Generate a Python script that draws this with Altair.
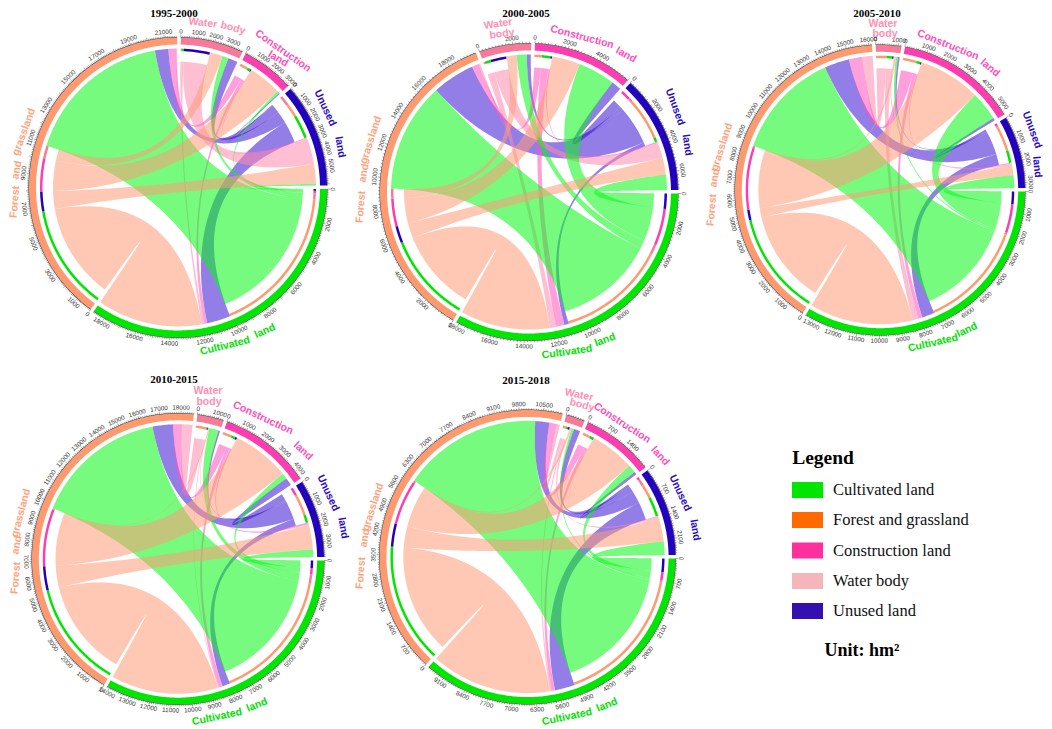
import math
import altair as alt
import pandas as pd

alt.data_transformers.disable_max_rows()

# sector order clockwise from 3 o'clock: Cultivated, Forest, Water, Construction, Unused
SECTORS = ["Cultivated land", "Forest and grassland", "Water body", "Construction land", "Unused land"]
BAND = ["#00E600", "#FF9A70", "#F87A9A", "#FF3CB0", "#2200C0"]
RIBBON = ["#05F815", "#FF9B76", "#FF8AAD", "#FF52BF", "#3A12D1"]
WORD_COLORS = ["#00E000", "#FFA37E", "#FF8FB3", "#FF4FB8", "#2A0CC0"]

# flow tables: row = from, column = to, hm2 (order as SECTORS)
flows_1995 = [[0, 9500, 400, 150, 120],
              [6700, 0, 800, 2100, 1250],
              [150, 60, 0, 20, 1650],
              [200, 500, 20, 0, 60],
              [1500, 850, 600, 60, 0]]
flows_2000 = [[0, 7100, 650, 2400, 1000],
              [5800, 0, 650, 1800, 1100],
              [400, 100, 0, 30, 1000],
              [550, 450, 30, 0, 100],
              [280, 2750, 250, 640, 0]]
flows_2005 = [[0, 5200, 100, 1400, 620],
              [5000, 0, 100, 3000, 500],
              [280, 500, 0, 10, 60],
              [200, 650, 10, 0, 50],
              [600, 1200, 80, 130, 0]]
flows_2010 = [[0, 6800, 470, 300, 400],
              [5500, 0, 60, 2950, 1250],
              [50, 540, 0, 10, 40],
              [200, 450, 10, 0, 100],
              [400, 1050, 80, 400, 0]]
flows_2015 = [[0, 4340, 70, 250, 430],
              [3760, 0, 60, 1390, 730],
              [50, 100, 0, 5, 60],
              [110, 230, 5, 0, 15],
              [620, 440, 200, 90, 0]]

# labelled ticks per sector
ticks_1995 = [list(range(0, 18001, 2000)), [0] + list(range(1000, 21001, 2000)),
              [0, 1000, 2000, 3000], [0, 1000, 2000, 3000], [0, 1000, 2000, 3000, 4000, 5000]]
ticks_2000 = [list(range(0, 18001, 2000)), list(range(0, 18001, 2000)),
              [0, 2000], [0, 2000, 4000], [0, 2000, 4000, 6000]]
ticks_2005 = [list(range(0, 13001, 1000)), list(range(0, 16001, 1000)),
              [0, 1000], list(range(0, 5001, 1000)), [0, 1000, 2000, 3000]]
ticks_2010 = [list(range(0, 14001, 1000)), list(range(0, 18001, 1000)),
              [0, 1000], list(range(0, 4001, 1000)), [0, 1000, 2000, 3000]]
ticks_2015 = [list(range(0, 9101, 700)), list(range(0, 10501, 700)),
              [0], [0, 700, 1400], [0, 700, 1400, 2100]]

TITLES = ["1995-2000", "2000-2005", "2005-2010", "2010-2015", "2015-2018"]
FLOWS = [flows_1995, flows_2000, flows_2005, flows_2010, flows_2015]
TICKS = [ticks_1995, ticks_2000, ticks_2005, ticks_2010, ticks_2015]
TICK_STEP = [100, 200, 100, 100, 70]

# layout (picture pixels): centre x, centre y, radius x, radius y, title x, title y
FRAMES = [(178, 187.5, 149, 150, 174, 13.5),
          (529, 192, 149, 148.5, 526, 13.5),
          (880, 190, 145, 145, 877, 13.5),
          (178, 559, 146, 145.5, 174, 380),
          (527.5, 557, 148, 147, 526, 381)]

# outer sector names set along the rim: word, x, y, rotation, sector
WORDS = [
    ("Water", 203, 23, 7, 2), ("body", 233, 28, 15, 2),
    ("Construction", 283, 51, 35, 3), ("land", 278, 59, 30, 3),
    ("Unused", 325, 108, 65, 4), ("land", 340, 147, 80, 4),
    ("Forest", 15, 202, -85, 1), ("and", 17, 170, -80, 1), ("grassland", 24, 132, -70, 1),
    ("Cultivated", 225, 346, -14, 0), ("land", 265, 331, -24, 0),

    ("Water", 498, 24, -8, 2), ("body", 502, 34, -8, 2),
    ("Construction", 582, 37, 15, 3), ("land", 626, 55, 28, 3),
    ("Unused", 675, 107, 70, 4), ("land", 687, 145, 82, 4),
    ("Forest", 361, 207, -85, 1), ("and", 364, 173, -80, 1), ("grassland", 371, 140, -72, 1),
    ("Cultivated", 567, 352, -8, 0), ("land", 605, 340, -20, 0),

    ("Water", 883, 23.5, 0, 2), ("body", 885, 34, 0, 2),
    ("Construction", 948, 45, 22, 3), ("land", 990, 68, 40, 3),
    ("Unused", 1032, 130, 70, 4), ("land", 1037, 167, 85, 4),
    ("Forest", 712, 210, -85, 1), ("and", 715, 178, -80, 1), ("grassland", 722, 147, -72, 1),
    ("Cultivated", 933, 343, -13, 0), ("land", 967, 330, -25, 0),

    ("Water", 208, 391, 0, 2), ("body", 209, 402, 0, 2),
    ("Construction", 263, 418, 25, 3), ("land", 303, 451, 42, 3),
    ("Unused", 328, 493, 65, 4), ("land", 343, 528, 80, 4),
    ("Forest", 16, 578, -85, 1), ("and", 17, 545, -80, 1), ("grassland", 21, 513, -75, 1),
    ("Cultivated", 217, 717, -12, 0), ("land", 257, 705, -22, 0),

    ("Water", 579, 395, 12, 2), ("body", 582, 405, 15, 2),
    ("Construction", 622, 423, 33, 3), ("land", 660, 456, 48, 3),
    ("Unused", 680, 493, 65, 4), ("land", 695, 530, 80, 4),
    ("Forest", 361, 573, -85, 1), ("and", 365, 538, -80, 1), ("grassland", 373, 507, -72, 1),
    ("Cultivated", 567, 717, -12, 0), ("land", 607, 705, -22, 0),
]

LEGEND_NAMES = ["Cultivated land", "Forest and grassland", "Construction land", "Water body", "Unused land"]
LEGEND_COLORS = ["#00E600", "#FF6A00", "#FF2F9E", "#F4B6BA", "#3410B0"]

GAP = 1.4
START = 0.6
R_BAND_OUT, R_BAND_IN = 149.0, 142.0
R_THIN_OUT, R_THIN_IN = 138.0, 135.5
R_IN, R_OUT = 138.0, 125.0
ALPHA = 0.55


def pt(frame, r, a):
    cx, cy, rx, ry = frame[:4]
    t = math.radians(a)
    return [cx + rx * r / 149.0 * math.cos(t), cy + ry * r / 149.0 * math.sin(t)]


def arc(frame, r, a0, a1):
    n = max(2, int(abs(a1 - a0) / 0.7) + 2)
    return [pt(frame, r, a0 + (a1 - a0) * i / (n - 1)) for i in range(n)]


def curve(frame, p0, p2):
    c = frame[:2]
    out = []
    for i in range(1, 40):
        t = i / 40
        out.append([(1 - t) ** 2 * p0[0] + 2 * t * (1 - t) * c[0] + t * t * p2[0],
                    (1 - t) ** 2 * p0[1] + 2 * t * (1 - t) * c[1] + t * t * p2[1]])
    return out


def feature(ring, color, opacity=1.0):
    ring = ring + [ring[0]]
    return {"type": "Feature",
            "geometry": {"type": "Polygon", "coordinates": [ring]},
            "properties": {"c": color, "o": opacity}}


def band(frame, r0, r1, a0, a1, color, opacity=1.0):
    return feature(arc(frame, r1, a0, a1) + arc(frame, r0, a1, a0), color, opacity)


shapes_bottom, ribbons, rules, tick_text = [], {}, [], []
for p, M in enumerate(FLOWS):
    frame = FRAMES[p]
    out_tot = [sum(M[i]) for i in range(5)]
    in_tot = [sum(M[j][i] for j in range(5)) for i in range(5)]
    totals = [out_tot[i] + in_tot[i] for i in range(5)]
    per_deg = (360 - 5 * GAP) / sum(totals)
    starts, a = [], START
    for i in range(5):
        starts.append(a)
        a += totals[i] * per_deg + GAP
    out_end = {}
    in_end = {}
    for i in range(5):
        shapes_bottom.append(band(frame, R_BAND_IN, R_BAND_OUT, starts[i],
                                  starts[i] + totals[i] * per_deg, BAND[i]))
        shapes_bottom.append(band(frame, R_BAND_OUT, R_BAND_OUT + 0.5, starts[i],
                                  starts[i] + totals[i] * per_deg, "#222222"))
        # ends of flows run backwards round the circle from this sector
        pos = starts[i]
        for k in range(1, 5):
            j = (i - k) % 5
            w = M[i][j] * per_deg
            out_end[(i, j)] = (pos, pos + w)
            pos += w
        for k in range(1, 5):
            j = (i - k) % 5
            w = M[j][i] * per_deg
            in_end[(j, i)] = (pos, pos + w)
            pos += w
        for k in range(1, 5):
            j = (i - k) % 5
            s0, s1 = out_end[(i, j)]
            shapes_bottom.append(band(frame, R_THIN_IN, R_THIN_OUT, s0, s1, BAND[j]))
        # ruler
        step = TICK_STEP[p]
        major = 10 * step
        v = 0
        while v <= totals[i]:
            ang = starts[i] + v * per_deg
            length = 2.6 if v % major == 0 else 1.5
            p0, p1 = pt(frame, R_BAND_OUT + 0.3, ang), pt(frame, R_BAND_OUT + 0.3 + length, ang)
            rules.append({"x": p0[0], "y": p0[1], "x2": p1[0], "y2": p1[1]})
            v += step
        for v in TICKS[p][i]:
            ang = starts[i] + v * per_deg
            q = pt(frame, R_BAND_OUT + 6.0, ang)
            rot = (ang + 90) % 360 if ang > 180 else (ang - 90) % 360
            tick_text.append({"x": q[0], "y": q[1], "t": str(v), "r": rot})
    for i in range(5):
        for j in range(5):
            if i == j or M[i][j] <= 0:
                continue
            a0, a1 = out_end[(i, j)]
            b0, b1 = in_end[(i, j)]
            ring = (arc(frame, R_OUT, a0, a1)
                    + curve(frame, pt(frame, R_OUT, a1), pt(frame, R_IN, b0))
                    + arc(frame, R_IN, b0, b1)
                    + curve(frame, pt(frame, R_IN, b1), pt(frame, R_OUT, a0)))
            ribbons.setdefault(i, []).append(feature(ring, RIBBON[i], ALPHA))

features = list(shapes_bottom)
for i in [4, 2, 3, 0, 1]:
    features += ribbons.get(i, [])

SX = alt.Scale(domain=[8, 1044], nice=False, zero=False)
SY = alt.Scale(domain=[729, 8], nice=False, zero=False)
X = alt.X("x:Q", scale=SX, axis=None)
Y = alt.Y("y:Q", scale=SY, axis=None)

shapes = (alt.Chart(alt.Data(values=features))
          .mark_geoshape(strokeWidth=0)
          .encode(color=alt.Color("properties.c:N", scale=None),
                  opacity=alt.Opacity("properties.o:Q", scale=None))
          .project(type="identity", scale=1, translate=[-8, -8], reflectY=False))

ruler = (alt.Chart(pd.DataFrame(rules)).mark_rule(color="#222222", strokeWidth=0.4)
         .encode(x=X, y=Y, x2="x2:Q", y2="y2:Q"))

tick_labels = (alt.Chart(pd.DataFrame(tick_text))
               .mark_text(font="Liberation Sans", fontSize=6.3, color="#333333", align="center", baseline="middle")
               .encode(x=X, y=Y, text="t:N", angle=alt.Angle("r:Q", scale=None)))

word_df = pd.DataFrame([{"x": x, "y": y, "t": w, "r": r % 360, "c": WORD_COLORS[s]} for w, x, y, r, s in WORDS])
words = (alt.Chart(word_df)
         .mark_text(font="Liberation Sans", fontSize=10.5, fontWeight="bold", align="center", baseline="middle")
         .encode(x=X, y=Y, text="t:N", angle=alt.Angle("r:Q", scale=None), color=alt.Color("c:N", scale=None)))

title_df = pd.DataFrame([{"x": FRAMES[i][4], "y": FRAMES[i][5], "t": TITLES[i]} for i in range(5)])
titles = (alt.Chart(title_df)
          .mark_text(font="Liberation Serif", fontSize=11, fontWeight="bold", color="#000000", align="center", baseline="middle")
          .encode(x=X, y=Y, text="t:N"))

leg_y = [490, 520, 550.5, 581, 611]
leg_df = pd.DataFrame({"x": [792] * 5, "x2": [823] * 5, "y": [v - 8 for v in leg_y], "y2": [v + 8 for v in leg_y],
                       "c": LEGEND_COLORS, "tx": [833] * 5, "ty": leg_y, "t": LEGEND_NAMES})
leg_rect = (alt.Chart(leg_df).mark_rect()
            .encode(x=X, y=Y, x2="x2:Q", y2="y2:Q", color=alt.Color("c:N", scale=None)))
leg_text = (alt.Chart(leg_df)
            .mark_text(font="Liberation Serif", fontSize=16.5, color="#111111", align="left", baseline="middle")
            .encode(x=alt.X("tx:Q", scale=SX, axis=None), y=alt.Y("ty:Q", scale=SY, axis=None), text="t:N"))
head_df = pd.DataFrame([{"x": 823, "y": 458, "t": "Legend", "s": 19.5}, {"x": 862, "y": 651, "t": "Unit: hm²", "s": 18}])
heads = (alt.Chart(head_df)
         .mark_text(font="Liberation Serif", fontWeight="bold", color="#000000", align="center", baseline="middle")
         .encode(x=X, y=Y, text="t:N", size=alt.Size("s:Q", scale=None)))

chart = (alt.layer(shapes, ruler, tick_labels, words, titles, leg_rect, leg_text, heads)
         .properties(width=1036, height=721, padding=0, autosize=alt.AutoSizeParams(type="none"), background="white")
         .configure_view(stroke=None))

chart.save("out.html", embed_options={"renderer": "svg", "actions": False})
